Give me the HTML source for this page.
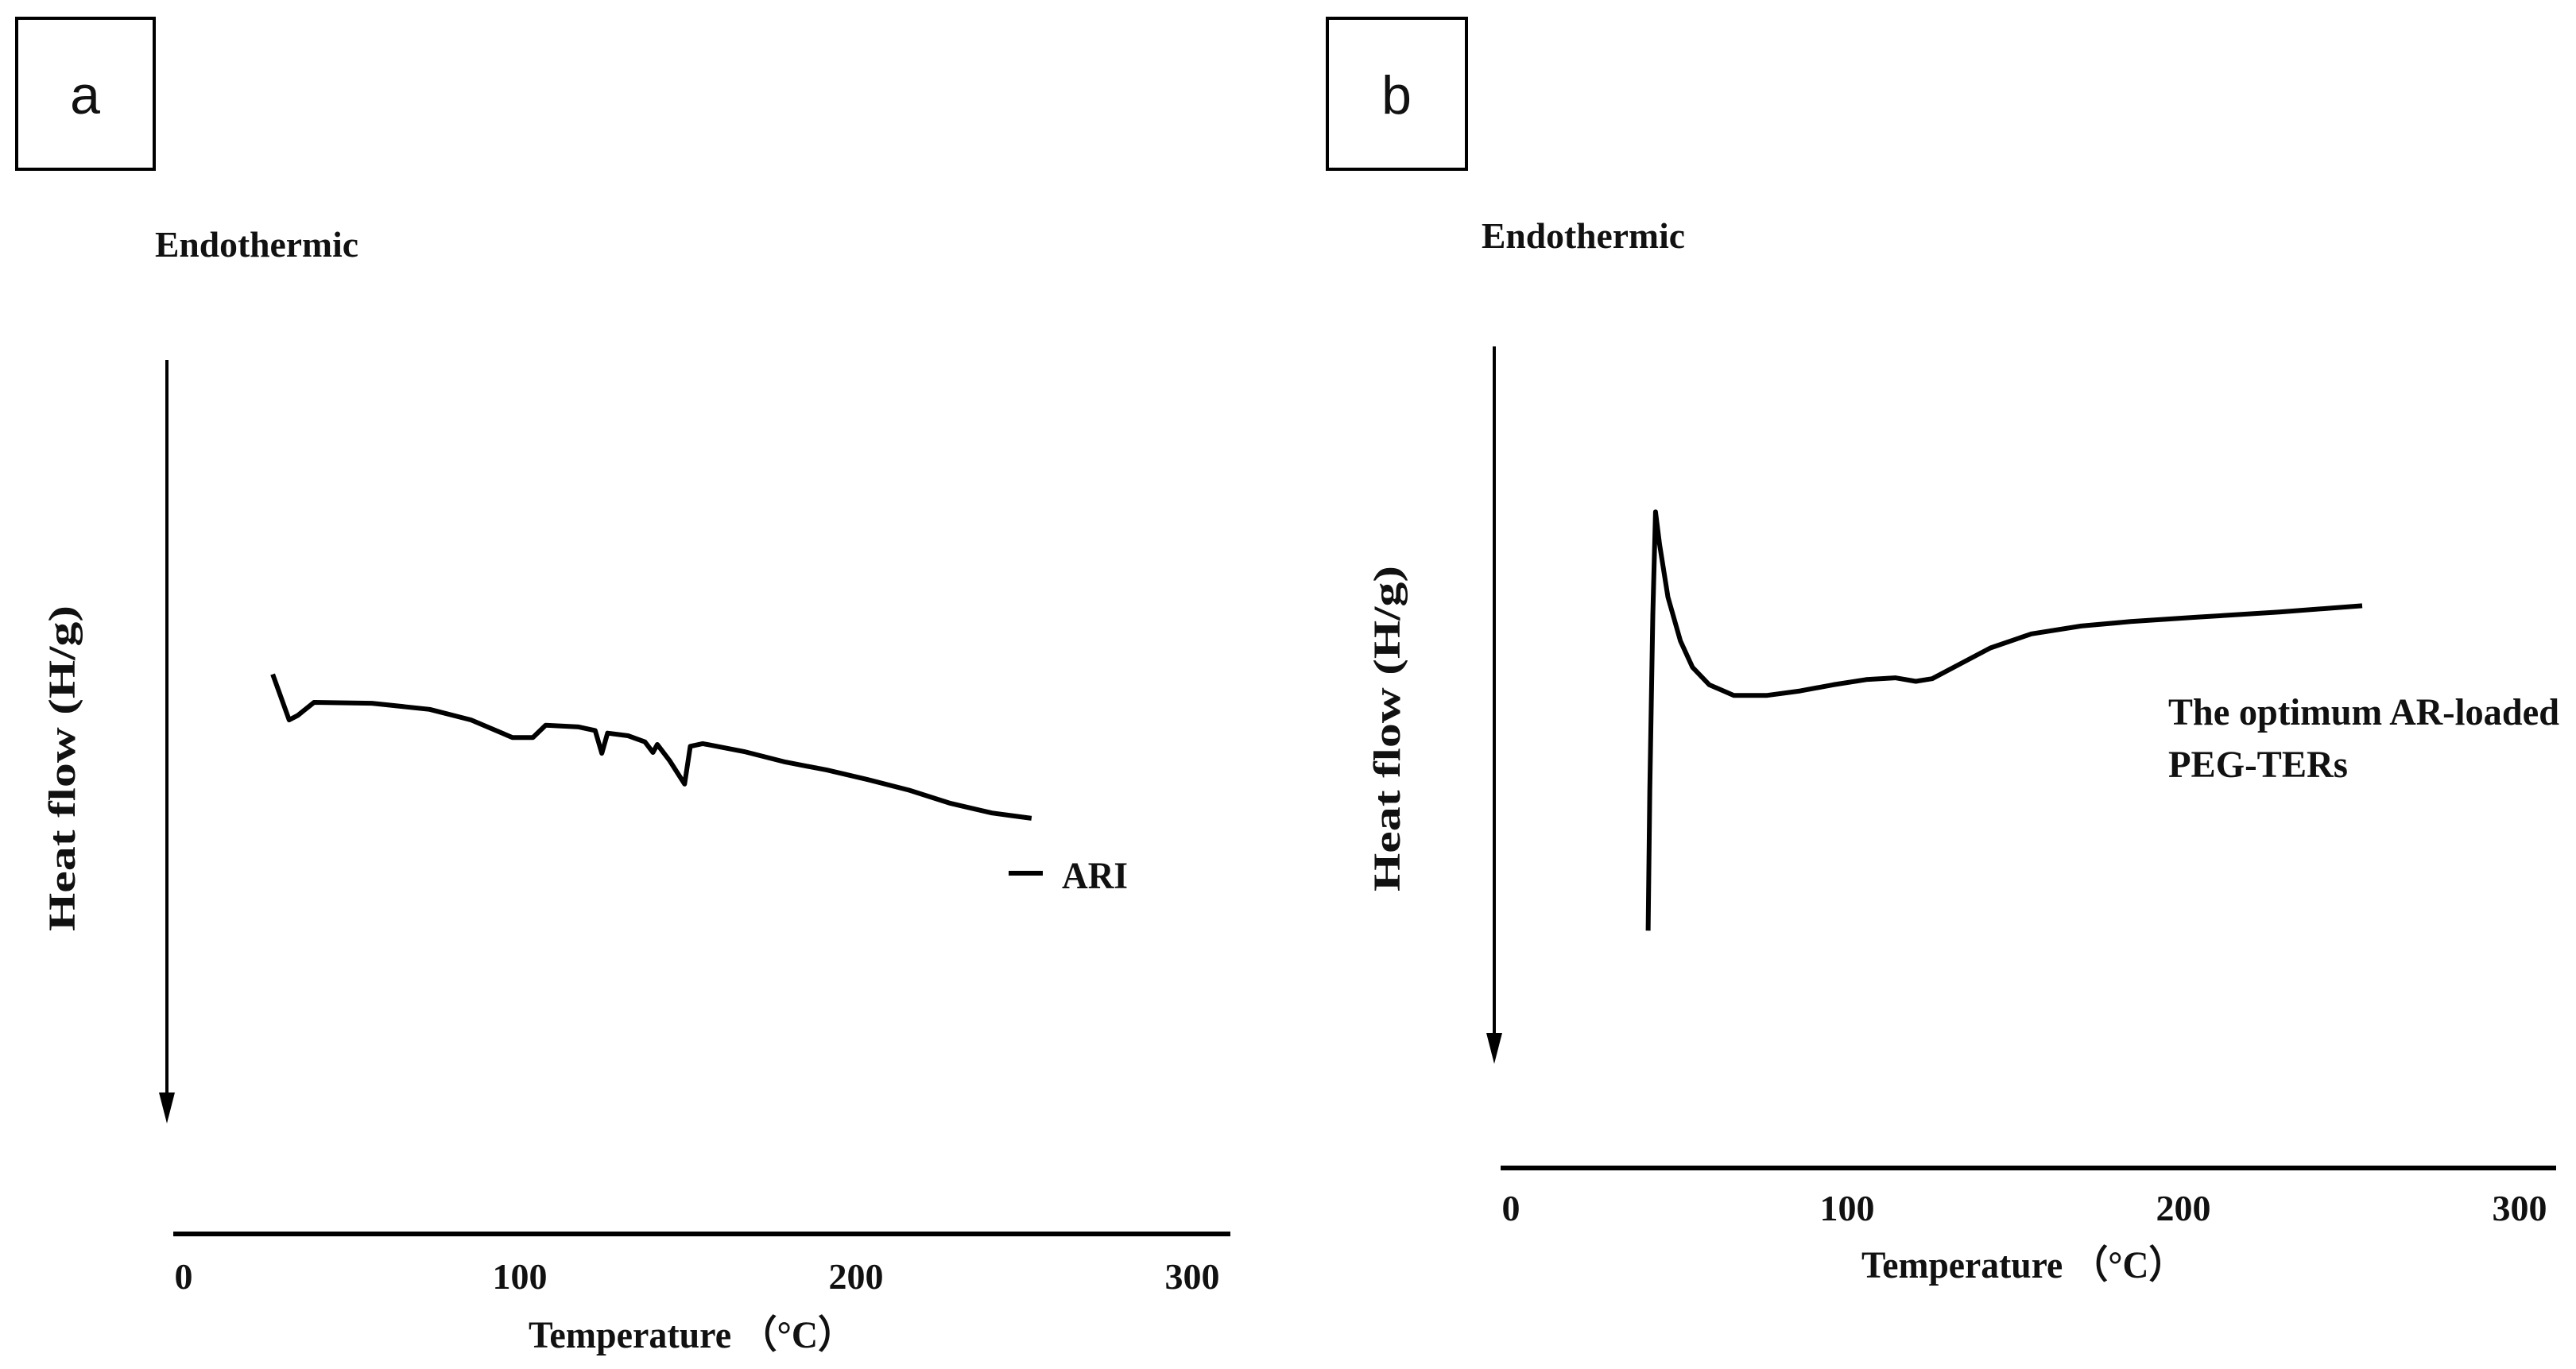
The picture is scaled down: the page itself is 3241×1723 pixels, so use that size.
<!DOCTYPE html>
<html><head><meta charset="utf-8"><style>
html,body{margin:0;padding:0;background:#fff;}
svg{display:block;}
text{font-family:"Liberation Serif",serif;font-weight:bold;fill:#111;}
.lab{font-family:"Liberation Sans",sans-serif;font-weight:normal;}
</style></head><body>
<svg id="fig" width="3241" height="1723" viewBox="0 0 3241 1723">
<g>
 <rect x="21" y="23" width="173" height="190" fill="none" stroke="#000" stroke-width="4"/>
 <text class="lab" x="107" y="143" font-size="68" text-anchor="middle">a</text>
 <text x="195" y="323" font-size="46" textLength="256" lengthAdjust="spacingAndGlyphs">Endothermic</text>
 <line x1="210" y1="453" x2="210" y2="1385" stroke="#000" stroke-width="4"/>
 <polygon points="200,1375 220,1375 210,1414" fill="#000"/>
 <text x="0" y="0" font-size="48" text-anchor="middle" textLength="410" lengthAdjust="spacingAndGlyphs" transform="translate(94,967) rotate(-90)">Heat flow (H/g)</text>
 <line x1="218" y1="1553" x2="1548" y2="1553" stroke="#000" stroke-width="6"/>
 <g id="ticksA"></g>
 <text x="665" y="1696" font-size="48" textLength="410" lengthAdjust="spacingAndGlyphs">Temperature （°C）</text>
 <path id="curveA" fill="none" stroke="#000" stroke-width="6" stroke-linejoin="round"/>
 <line x1="1269" y1="1099" x2="1312" y2="1099" stroke="#000" stroke-width="6"/>
 <text x="1336" y="1118" font-size="48" textLength="83" lengthAdjust="spacingAndGlyphs">ARI</text>
</g>
<g>
 <rect x="1670" y="23" width="175" height="190" fill="none" stroke="#000" stroke-width="4"/>
 <text class="lab" x="1757" y="143" font-size="68" text-anchor="middle">b</text>
 <text x="1864" y="312" font-size="46" textLength="256" lengthAdjust="spacingAndGlyphs">Endothermic</text>
 <line x1="1880" y1="436" x2="1880" y2="1310" stroke="#000" stroke-width="4"/>
 <polygon points="1870,1300 1890,1300 1880,1339" fill="#000"/>
 <text x="0" y="0" font-size="48" text-anchor="middle" textLength="410" lengthAdjust="spacingAndGlyphs" transform="translate(1761,917) rotate(-90)">Heat flow (H/g)</text>
 <line x1="1888" y1="1470" x2="3216" y2="1470" stroke="#000" stroke-width="6"/>
 <g id="ticksB"></g>
 <text x="2342" y="1608" font-size="48" textLength="407" lengthAdjust="spacingAndGlyphs">Temperature （°C）</text>
 <path id="curveB" fill="none" stroke="#000" stroke-width="6" stroke-linejoin="round"/>
 <text x="2728" y="912" font-size="48" textLength="492" lengthAdjust="spacingAndGlyphs">The optimum AR-loaded</text>
 <text x="2728" y="978" font-size="48" textLength="226" lengthAdjust="spacingAndGlyphs">PEG-TERs</text>
</g>
</svg>
<script>
const tickLabels = [0, 100, 200, 300];
const tempA = [26.5,31.4,33.9,38.8,56.0,73.2,85.5,97.8,103.9,107.7,117.5,122.4,124.4,126.1,132.2,137.2,139.6,140.9,144.5,149.0,150.7,154.4,166.7,179.0,191.3,203.5,215.8,228.1,240.4,252.2];
const heatA = [232,180,185,200,199,192,180,160,160,174,172,168,142,165,162,155,143,152,134,107,150,153,144,132,123,112,100,85,74,68];
const tempB = [40.8,41.3,42.2,43.0,44.2,46.7,50.4,54.0,59.0,66.3,76.2,86.0,95.8,105.7,114.3,120.4,125.3,132.7,142.6,154.8,169.6,184.3,204.0,228.6,253.2];
const heatB = [-60,100,300,417,380,320,270,240,220,208,208,213,220,226,228,224,227,242,262,278,287,292,297,303,310];

function xScaleA(t){ return 231 + t*4.23; }
function xScaleB(t){ return 1901 + t*4.23; }
function yScale(h){ return (1000 - h)*1.105; }
const NS = 'http://www.w3.org/2000/svg';
function ticks(gid, xs, y, prefix){
  const g = document.getElementById(gid);
  tickLabels.forEach(v => {
    const t = document.createElementNS(NS,'text');
    t.setAttribute('x', xs(v));
    t.setAttribute('y', y);
    t.setAttribute('font-size', '46');
    t.setAttribute('text-anchor', 'middle');
    t.textContent = v;
    
    
    g.appendChild(t);
  });
}
function line(id, xs, temps, heats){
  let d = '';
  temps.forEach((t,i) => { d += (i ? 'L' : 'M') + xs(t).toFixed(1) + ',' + yScale(heats[i]).toFixed(1); });
  document.getElementById(id).setAttribute('d', d);
}
ticks('ticksA', xScaleA, 1622, 'panel-a-x');
ticks('ticksB', xScaleB, 1536, 'panel-b-x');
line('curveA', xScaleA, tempA, heatA);
line('curveB', xScaleB, tempB, heatB);
</script>
</body></html>
